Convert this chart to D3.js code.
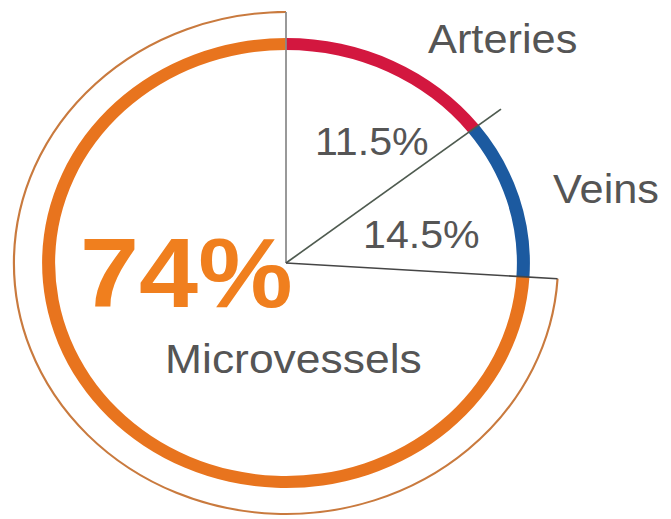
<!DOCTYPE html>
<html>
<head>
<meta charset="utf-8">
<script src="https://cdn.jsdelivr.net/npm/d3@7"></script>
<style>
  body { margin: 0; background: #fff; }
  text { font-family: "Liberation Sans", Arial, sans-serif; }
</style>
</head>
<body>
<div id="chart"></div>
<script>
// DATA
const categories = ["Arteries", "Veins", "Microvessels"];
const percentLabels = ["11.5%", "14.5%", "74%"];
// arc sizes as they are drawn in the picture (percent of the ring)
const drawnShares = [14.5, 11.5, 74];
const ringColors = ["#d3173f", "#1c5aa0", "#e8741e"];

// SIZES
const W = 671, H = 519;
const cx = 286, cy = 263;
const stretch = 1.084;   // the original is a bit wider than tall
const rRing = 219, ringW = 12, rOuter = 251;

const svg = d3.select("#chart").append("svg")
    .attr("width", W)
    .attr("height", H);

const g = svg.append("g")
    .attr("transform", `translate(${cx},${cy}) scale(${stretch},1)`);

const pie = d3.pie().sort(null).value(d => d);
const slices = pie(drawnShares);

// thin outline around the microvessels slice
const outline = d3.arc().innerRadius(rOuter).outerRadius(rOuter);
g.append("path")
    .attr("d", outline(slices[2]))
    .attr("fill", "none")
    .attr("stroke", "#c97a3e")
    .attr("stroke-width", 2);

// thick ring
const ringArc = d3.arc()
    .innerRadius(rRing - ringW / 2)
    .outerRadius(rRing + ringW / 2);

g.selectAll(".ring")
    .data(slices)
    .enter()
    .append("path")
    .attr("class", "ring")
    .attr("d", ringArc)
    .attr("fill", (d, i) => ringColors[i]);

// radial lines at slice boundaries
const boundaries = [
    { a: slices[0].startAngle, c: "#8a8a8a" },
    { a: slices[0].endAngle, c: "#4f5b50" },
    { a: slices[1].endAngle, c: "#454545" }
];
g.selectAll(".radial")
    .data(boundaries)
    .enter()
    .append("line")
    .attr("class", "radial")
    .attr("x1", 0).attr("y1", 0)
    .attr("x2", d => rOuter * Math.sin(d.a))
    .attr("y2", d => -rOuter * Math.cos(d.a))
    .attr("stroke", d => d.c)
    .attr("stroke-width", 1.6);

// LABELS
const grey = "#555";
const fx = x => (x - cx) / stretch;
const fy = y => y - cy;

g.append("text")
    .attr("x", fx(428)).attr("y", fy(53))
    .attr("font-size", 40).attr("fill", grey)
    .text(categories[0]);

g.append("text")
    .attr("x", fx(553)).attr("y", fy(203))
    .attr("font-size", 40).attr("fill", grey)
    .text(categories[1]);

g.append("text")
    .attr("x", fx(315)).attr("y", fy(155))
    .attr("font-size", 38).attr("fill", grey)
    .text(percentLabels[0]);

g.append("text")
    .attr("x", fx(363)).attr("y", fy(248))
    .attr("font-size", 38).attr("fill", grey)
    .text(percentLabels[1]);

g.append("text")
    .attr("x", fx(80)).attr("y", fy(307))
    .attr("font-size", 98).attr("font-weight", "bold")
    .attr("fill", "#f07f1e")
    .text(percentLabels[2]);

g.append("text")
    .attr("x", fx(165)).attr("y", fy(373))
    .attr("font-size", 41).attr("fill", grey)
    .text(categories[2]);
</script>
</body>
</html>
